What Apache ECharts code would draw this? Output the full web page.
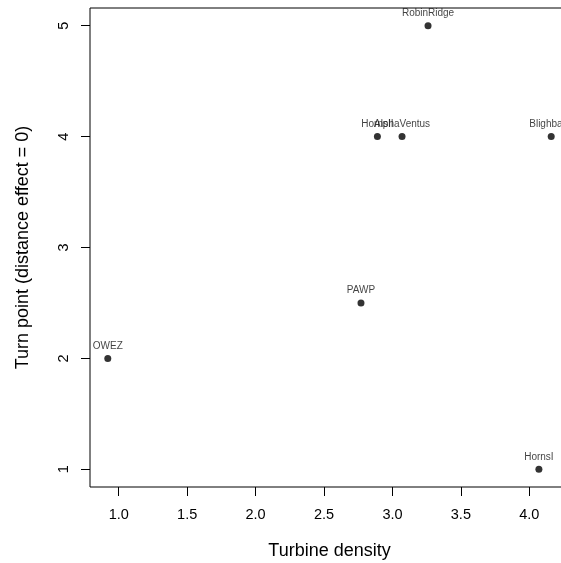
<!DOCTYPE html>
<html>
<head>
<meta charset="utf-8">
<script src="https://cdn.jsdelivr.net/npm/echarts@6/dist/echarts.min.js"></script>
<style>html,body{margin:0;padding:0;background:#fff;}#c{width:561px;height:563px;}</style>
</head>
<body>
<div id="c"></div>
<script>
var sites = ['RobinRidge', 'HornsII', 'AlphaVentus', 'Blighbank', 'PAWP', 'OWEZ', 'HornsI'];
var turbineDensity = [3.26, 2.89, 3.07, 4.16, 2.77, 0.92, 4.07];
var turnPoint = [5, 4, 4, 4, 2.5, 2, 1];
var xTicks = [1.0, 1.5, 2.0, 2.5, 3.0, 3.5, 4.0];
var yTicks = [1, 2, 3, 4, 5];

var chart = echarts.init(document.getElementById('c'), null, {renderer: 'canvas'});
var pts = sites.map(function (s, i) { return {name: s, value: [turbineDensity[i], turnPoint[i]]}; });
var font = 'Liberation Sans, Arial, sans-serif';
chart.setOption({
  animation: false,
  backgroundColor: '#fff',
  grid: {left: 90, top: 8, width: 479, height: 479, outerBoundsMode: 'none', containLabel: false,
    show: true, borderColor: '#000', borderWidth: 1, backgroundColor: 'transparent'},
  xAxis: {
    type: 'value', min: 0.79, max: 4.29,
    name: 'Turbine density', nameLocation: 'middle', nameGap: 55,
    nameTextStyle: {fontSize: 18, color: '#000', fontFamily: font},
    axisLine: {show: false},
    splitLine: {show: false},
    axisTick: {show: true, inside: false, length: 9, lineStyle: {color: '#000'}, customValues: xTicks},
    axisLabel: {show: true, customValues: xTicks, margin: 20, fontSize: 14.5, color: '#000', fontFamily: font,
      formatter: function (v) { return v.toFixed(1); }}
  },
  yAxis: {
    type: 'value', min: 0.84, max: 5.16,
    name: 'Turn point (distance effect = 0)', nameLocation: 'middle', nameGap: 58,
    nameTextStyle: {fontSize: 18, color: '#000', fontFamily: font},
    axisLine: {show: false},
    splitLine: {show: false},
    axisTick: {show: true, inside: false, length: 9, lineStyle: {color: '#000'}, customValues: yTicks},
    axisLabel: {show: true, customValues: yTicks, rotate: 90, margin: 19, fontSize: 14.5, color: '#000', fontFamily: font,
      formatter: function (v) { return String(v); }}
  },
  series: [{
    type: 'scatter',
    data: pts,
    symbol: 'circle',
    symbolSize: 7,
    itemStyle: {color: '#000'},
    label: {show: true, position: 'top', distance: 4, formatter: '{b}', fontSize: 10, color: '#111', fontFamily: font},
    labelLayout: {hideOverlap: false}
  }]
});
</script>
</body>
</html>
